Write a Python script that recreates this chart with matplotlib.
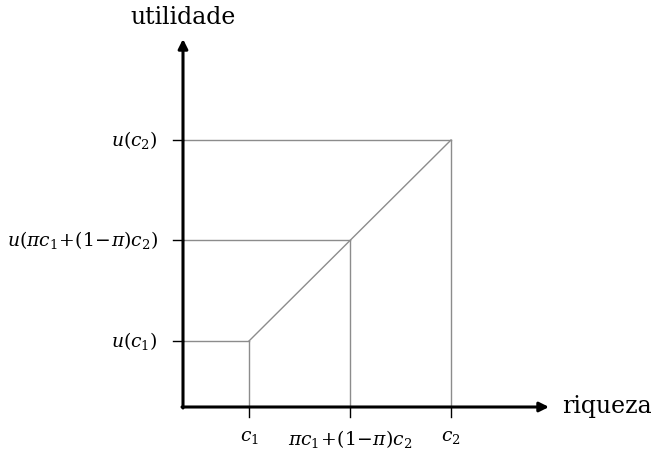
import matplotlib
matplotlib.use("Agg")
import matplotlib.pyplot as plt

# wealth levels and the corresponding utility levels (same scale on both axes)
wealth = [0.66, 1.67, 2.68]
utility = [0.66, 1.67, 2.67]
x_labels = [r"$c_1$", r"$\pi c_1\!+\!(1\!-\!\pi)c_2$", r"$c_2$"]
y_labels = [r"$u(c_1)$", r"$u(\pi c_1\!+\!(1\!-\!\pi)c_2)$", r"$u(c_2)$"]

plt.rcParams["mathtext.fontset"] = "dejavuserif"
plt.rcParams["font.family"] = "DejaVu Serif"

fig = plt.figure(figsize=(6.55, 4.53), dpi=100)
ax = fig.add_axes([0, 0, 1, 1])
ax.set_xlim(-1.83, 4.72)
ax.set_ylim(-0.46, 4.07)
ax.axis("off")

gray = "#8c8c8c"
# guide lines from each point back to the axes
for x, y in zip(wealth, utility):
    ax.plot([x, x], [0, y], color=gray, lw=1.0)
    ax.plot([0, x], [y, y], color=gray, lw=1.0)
# utility curve: flat stretch then the straight line up to c2
ax.plot([wealth[0], wealth[2]], [utility[0], utility[2]], color=gray, lw=1.0)

# axes with arrow heads
arrow = dict(arrowstyle="-|>", lw=2.2, color="black", mutation_scale=14,
             shrinkA=0, shrinkB=0)
ax.annotate("", xy=(3.66, 0), xytext=(-0.01, 0), arrowprops=arrow)
ax.annotate("", xy=(0, 3.68), xytext=(0, -0.01), arrowprops=arrow)

# ticks
for x, lab in zip(wealth, x_labels):
    ax.plot([x, x], [0, -0.1], color="black", lw=1.0)
    ax.text(x, -0.21, lab, ha="center", va="top", fontsize=13.5)
for y, lab in zip(utility, y_labels):
    ax.plot([-0.1, 0], [y, y], color="black", lw=1.0)
    ax.text(-0.25, y, lab, ha="right", va="center", fontsize=13.5)

ax.text(0, 3.89, "utilidade", ha="center", va="center", fontsize=17)
ax.text(3.79, 0.0, "riqueza", ha="left", va="center", fontsize=17)

fig.savefig("out.png", dpi=100)
